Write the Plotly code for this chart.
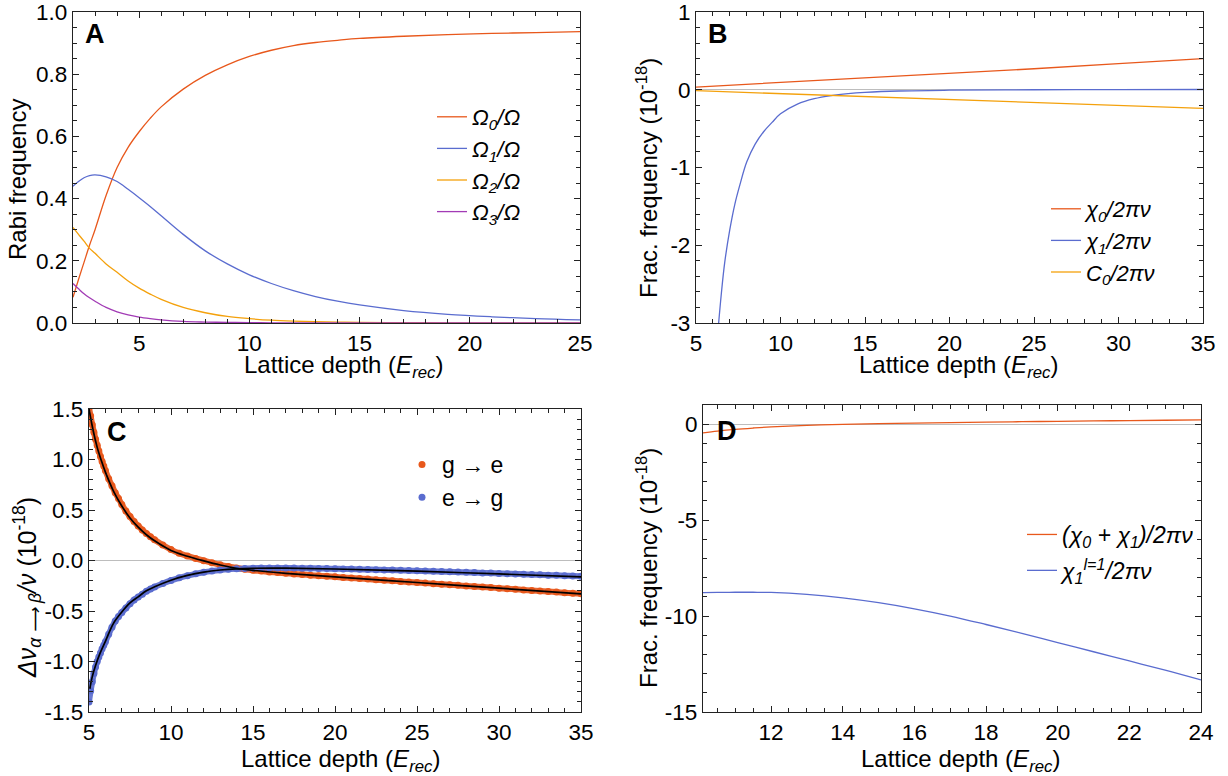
import plotly.graph_objects as go

W, H = 1228, 776
FONT = "Liberation Sans, Arial, Helvetica, sans-serif"

ORANGE = "#E8581C"
BLUE = "#5A6CCF"
YELLOW = "#F4A10C"
PURPLE = "#A23BB5"
GRAY0 = "#BDBDBD"
AXC = "#222222"

# ---------------- Panel A: Rabi frequency ----------------
a_x = [2, 2.25, 2.5, 2.75, 3, 3.5, 4, 4.5, 5, 5.5, 6, 7, 8, 9, 10, 11, 12, 13, 14, 15, 17, 19, 21, 23, 25]
a_omega0 = [0.083, 0.14, 0.195, 0.25, 0.30, 0.41, 0.50, 0.565, 0.615, 0.658, 0.695, 0.752, 0.796, 0.83, 0.857,
            0.877, 0.892, 0.902, 0.909, 0.915, 0.922, 0.927, 0.931, 0.934, 0.937]
a_omega1 = [0.44, 0.455, 0.467, 0.474, 0.476, 0.47, 0.455, 0.43, 0.403, 0.375, 0.345, 0.285, 0.232, 0.19, 0.155,
            0.127, 0.104, 0.085, 0.07, 0.058, 0.04, 0.028, 0.02, 0.014, 0.01]
a_omega2 = [0.307, 0.285, 0.263, 0.24, 0.224, 0.19, 0.163, 0.135, 0.112, 0.093, 0.076, 0.05, 0.033, 0.021, 0.014,
            0.009, 0.006, 0.004, 0.003, 0.002, 0.001, 0.0007, 0.0005, 0.0004, 0.0003]
a_omega3 = [0.127, 0.11, 0.094, 0.081, 0.07, 0.05, 0.036, 0.026, 0.019, 0.014, 0.01, 0.005, 0.003, 0.002, 0.001,
            0.0007, 0.0005, 0.0003, 0.0002, 0.0001, 0.0001, 0.0, 0.0, 0.0, 0.0]
a_names = ["<i>Ω<sub>0</sub>/Ω</i>", "<i>Ω<sub>1</sub>/Ω</i>", "<i>Ω<sub>2</sub>/Ω</i>", "<i>Ω<sub>3</sub>/Ω</i>"]
a_xticks = [5, 10, 15, 20, 25]
a_yticks = [0.0, 0.2, 0.4, 0.6, 0.8, 1.0]
a_yticktext = ["0.0", "0.2", "0.4", "0.6", "0.8", "1.0"]

# ---------------- Panel B: fractional frequency ----------------
b_lin_x = [5, 10, 15, 20, 25, 30, 35]
b_chi0 = [0.035, 0.093, 0.152, 0.21, 0.27, 0.335, 0.40]
b_c0 = [-0.012, -0.05, -0.088, -0.126, -0.164, -0.202, -0.24]
b_chi1_x = [6.3, 6.5, 6.7, 7.0, 7.3, 7.6, 8.0, 8.5, 9, 9.5, 10, 11, 12, 13, 14, 15, 17, 20, 25, 30, 35]
b_chi1 = [-3.1, -2.62, -2.22, -1.8, -1.47, -1.22, -0.93, -0.7, -0.54, -0.42, -0.31, -0.185, -0.115, -0.075,
          -0.05, -0.034, -0.016, -0.006, 0.0, 0.002, 0.003]
b_names = ["<i>χ<sub>0</sub>/2πν</i>", "<i>χ<sub>1</sub>/2πν</i>", "<i>C<sub>0</sub>/2πν</i>"]
b_xticks = [5, 10, 15, 20, 25, 30, 35]
b_yticks = [-3, -2, -1, 0, 1]
b_yticktext = ["-3", "-2", "-1", "0", "1"]

# ---------------- Panel C: transition shifts ----------------
c_dot_x = [5.0, 5.1, 5.2, 5.3, 5.4, 5.5, 5.6, 5.7, 5.8, 5.9, 6.0, 6.2, 6.4, 6.6, 6.8, 7.0, 7.25, 7.5, 7.75,
           8.0, 8.25, 8.5, 8.75, 9.0, 9.5, 10.0, 10.5, 11.0, 11.5, 12.0, 12.5, 13.0, 13.5, 14.0, 14.5, 15.0,
           15.5, 16.0, 16.5, 17.0, 17.5, 18.0, 18.5, 19.0, 19.5, 20.0, 20.5, 21.0, 21.5, 22.0, 22.5, 23.0,
           23.5, 24.0, 24.5, 25.0, 25.5, 26.0, 26.5, 27.0, 27.5, 28.0, 28.5, 29.0, 29.5, 30.0, 30.5, 31.0,
           31.5, 32.0, 32.5, 33.0, 33.5, 34.0, 34.5, 35.0]
c_ge_dots = [1.51, 1.43, 1.345, 1.27, 1.2, 1.14, 1.085, 1.03, 0.98, 0.935, 0.89, 0.81, 0.74, 0.67, 0.615,
             0.555, 0.49, 0.435, 0.385, 0.342, 0.302, 0.267, 0.235, 0.205, 0.153, 0.108, 0.072, 0.045, 0.02,
             -0.002, -0.023, -0.043, -0.06, -0.075, -0.087, -0.097, -0.105, -0.113, -0.12, -0.127, -0.133,
             -0.139, -0.145, -0.151, -0.156, -0.162, -0.168, -0.173, -0.179, -0.184, -0.19, -0.196, -0.201,
             -0.207, -0.212, -0.218, -0.224, -0.229, -0.235, -0.24, -0.246, -0.252, -0.257, -0.263, -0.268,
             -0.274, -0.28, -0.285, -0.291, -0.296, -0.302, -0.308, -0.313, -0.319, -0.324, -0.33]
c_eg_dots = [-1.4, -1.29, -1.2, -1.12, -1.055, -1.0, -0.955, -0.915, -0.875, -0.84, -0.805, -0.73, -0.66,
             -0.6, -0.555, -0.515, -0.47, -0.427, -0.39, -0.362, -0.333, -0.305, -0.282, -0.262, -0.228,
             -0.197, -0.172, -0.15, -0.132, -0.117, -0.105, -0.095, -0.087, -0.082, -0.078, -0.076, -0.075,
             -0.074, -0.074, -0.074, -0.075, -0.076, -0.077, -0.078, -0.08, -0.081, -0.083, -0.085, -0.087,
             -0.089, -0.091, -0.093, -0.095, -0.097, -0.1, -0.102, -0.105, -0.107, -0.11, -0.112, -0.115,
             -0.117, -0.12, -0.123, -0.125, -0.128, -0.131, -0.133, -0.136, -0.139, -0.142, -0.145, -0.147,
             -0.15, -0.153, -0.156]
c_ge_line_x = [5, 5.25, 5.5, 5.75, 6, 6.5, 7, 7.5, 8, 8.5, 9, 10, 11, 12, 13, 14, 15, 17, 20, 25, 30, 35]
c_ge_line = [1.5, 1.29, 1.12, 0.99, 0.875, 0.685, 0.54, 0.42, 0.33, 0.255, 0.195, 0.1, 0.042, -0.004, -0.045,
             -0.078, -0.098, -0.127, -0.162, -0.218, -0.274, -0.33]
c_eg_line_x = [5.05, 5.2, 5.4, 5.67, 6, 6.5, 7, 7.5, 8, 8.5, 9, 10, 11, 12, 13, 14, 15, 17, 20, 25, 30, 35]
c_eg_line = [-1.27, -1.15, -1.04, -0.92, -0.8, -0.62, -0.51, -0.42, -0.36, -0.3, -0.26, -0.195, -0.148,
             -0.115, -0.094, -0.082, -0.077, -0.076, -0.084, -0.106, -0.133, -0.162]
c_names = ["g → e", "e → g"]
c_xticks = [5, 10, 15, 20, 25, 30, 35]
c_yticks = [-1.5, -1.0, -0.5, 0.0, 0.5, 1.0, 1.5]
c_yticktext = ["-1.5", "-1.0", "-0.5", "0.0", "0.5", "1.0", "1.5"]

# ---------------- Panel D ----------------
d_x = [10.1, 10.5, 11, 11.5, 12, 13, 14, 15, 16, 17, 18, 19, 20, 21, 22, 23, 24]
d_sum = [-0.45, -0.36, -0.27, -0.2, -0.14, -0.06, -0.01, 0.03, 0.06, 0.085, 0.11, 0.13, 0.15, 0.17, 0.19,
         0.205, 0.22]
d_l1 = [-8.78, -8.77, -8.76, -8.76, -8.77, -8.87, -9.05, -9.3, -9.62, -10.0, -10.44, -10.9, -11.38, -11.86,
        -12.34, -12.82, -13.33]
d_names = ["<i>(χ<sub>0</sub> + χ<sub>1</sub>)/2πν</i>", "<i>χ<sub>1</sub><sup>l=1</sup>/2πν</i>"]
d_xticks = [12, 14, 16, 18, 20, 22, 24]
d_yticks = [-15, -10, -5, 0]
d_yticktext = ["-15", "-10", "-5", "0"]

XTITLE = "Lattice depth (<i>E<sub>rec</sub></i>)"


def pxx(p):
    return p / W


def pxy(p):
    return 1 - p / H


fig = go.Figure()

# Panel A traces
for ys, col, nm in zip([a_omega0, a_omega1, a_omega2, a_omega3], [ORANGE, BLUE, YELLOW, PURPLE], a_names):
    fig.add_trace(go.Scatter(x=a_x, y=ys, mode="lines", line=dict(color=col, width=1.3, shape="spline"),
                             name=nm, legend="legend", legendgroup=nm, xaxis="x", yaxis="y"))

# Panel B traces
fig.add_trace(go.Scatter(x=b_lin_x, y=b_chi0, mode="lines", line=dict(color=ORANGE, width=1.3),
                         name=b_names[0], legend="legend2", legendgroup="b0", xaxis="x2", yaxis="y2"))
fig.add_trace(go.Scatter(x=b_chi1_x, y=b_chi1, mode="lines", line=dict(color=BLUE, width=1.3, shape="spline"),
                         name=b_names[1], legend="legend2", legendgroup="b1", xaxis="x2", yaxis="y2"))
fig.add_trace(go.Scatter(x=b_lin_x, y=b_c0, mode="lines", line=dict(color=YELLOW, width=1.3),
                         name=b_names[2], legend="legend2", legendgroup="b2", xaxis="x2", yaxis="y2"))

# Panel C traces: dense dots (band underneath to merge them), then black fits on top
for ys, col in zip([c_ge_dots, c_eg_dots], [ORANGE, BLUE]):
    fig.add_trace(go.Scatter(x=c_dot_x, y=ys, mode="lines", line=dict(color=col, width=6, shape="spline"),
                             opacity=0.9, showlegend=False, hoverinfo="skip", xaxis="x3", yaxis="y3"))
fig.add_trace(go.Scatter(x=c_dot_x, y=c_ge_dots, mode="markers", marker=dict(color=ORANGE, size=7, line=dict(width=0)),
                         name=c_names[0], legend="legend3", legendgroup="c0", xaxis="x3", yaxis="y3"))
fig.add_trace(go.Scatter(x=c_dot_x, y=c_eg_dots, mode="markers", marker=dict(color=BLUE, size=7, line=dict(width=0)),
                         name=c_names[1], legend="legend3", legendgroup="c1", xaxis="x3", yaxis="y3"))
fig.add_trace(go.Scatter(x=c_ge_line_x, y=c_ge_line, mode="lines", line=dict(color="black", width=1.7, shape="spline"),
                         showlegend=False, xaxis="x3", yaxis="y3"))
fig.add_trace(go.Scatter(x=c_eg_line_x, y=c_eg_line, mode="lines", line=dict(color="black", width=1.7, shape="spline"),
                         showlegend=False, xaxis="x3", yaxis="y3"))

# Panel D traces
fig.add_trace(go.Scatter(x=d_x, y=d_sum, mode="lines", line=dict(color=ORANGE, width=1.3, shape="spline"),
                         name=d_names[0], legend="legend4", legendgroup="d0", xaxis="x4", yaxis="y4"))
fig.add_trace(go.Scatter(x=d_x, y=d_l1, mode="lines", line=dict(color=BLUE, width=1.3, shape="spline"),
                         name=d_names[1], legend="legend4", legendgroup="d1", xaxis="x4", yaxis="y4"))


def axis(domain, rng, tickvals, ticktext, minor_dtick, anchor, zeroline=False):
    return dict(
        domain=domain, range=rng, anchor=anchor, automargin=False,
        tickmode="array", tickvals=tickvals, ticktext=ticktext, ticklabeloverflow="allow",
        showline=True, linecolor=AXC, linewidth=1.2, mirror="allticks",
        ticks="inside", ticklen=6, tickwidth=1, tickcolor=AXC,
        showgrid=False, zeroline=zeroline, zerolinecolor=GRAY0, zerolinewidth=1,
        tickfont=dict(family=FONT, size=22.5, color="black"),
        minor=dict(ticks="inside", ticklen=3.5, tickwidth=1, tickcolor=AXC,
                   tickmode="linear", tick0=0, dtick=minor_dtick, showgrid=False),
        fixedrange=True,
    )


A_X = [pxx(73), pxx(580)]
B_X = [pxx(696), pxx(1203)]
AB_Y = [pxy(323), pxy(12)]
C_X = [pxx(89), pxx(581)]
C_Y = [pxy(712), pxy(409)]
D_X = [pxx(703), pxx(1201)]
D_Y = [pxy(712), pxy(405)]

fig.update_layout(
    template="none",
    width=W, height=H,
    margin=dict(l=0, r=0, t=0, b=0, pad=0),
    paper_bgcolor="white", plot_bgcolor="white",
    font=dict(family=FONT, size=23, color="black"),
    xaxis=axis(A_X, [2, 25], a_xticks, [str(v) for v in a_xticks], 1, "y"),
    yaxis=axis(AB_Y, [0, 1.0], a_yticks, a_yticktext, 0.05, "x"),
    xaxis2=axis(B_X, [5, 35], b_xticks, [str(v) for v in b_xticks], 1, "y2"),
    yaxis2=axis(AB_Y, [-3, 1], b_yticks, b_yticktext, 0.2, "x2", zeroline=True),
    xaxis3=axis(C_X, [5, 35], c_xticks, [str(v) for v in c_xticks], 1, "y3"),
    yaxis3=axis(C_Y, [-1.5, 1.5], c_yticks, c_yticktext, 0.1, "x3", zeroline=True),
    xaxis4=axis(D_X, [10.1, 24], d_xticks, [str(v) for v in d_xticks], 0.5, "y4"),
    yaxis4=axis(D_Y, [-15, 1], d_yticks, d_yticktext, 1, "x4", zeroline=True),
)


def leg(x, y, gap, size):
    return dict(x=x, y=y, tracegroupgap=gap, bgcolor="rgba(0,0,0,0)", borderwidth=0,
                xanchor="left", yanchor="top", traceorder="grouped",
                font=dict(family=FONT, size=size, color="black"))


fig.update_layout(
    legend=leg(pxx(432), pxy(96), 0, 22),
    legend2=leg(pxx(1046), pxy(188), 0, 22),
    legend3=leg(pxx(402), pxy(443), 0, 23),
    legend4=leg(pxx(1022), pxy(513), 3, 23),
)

annotations = []


def ann(text, x, y, size=24, angle=0, xanchor="center", yanchor="middle"):
    annotations.append(dict(text=text, x=x, y=y, xref="paper", yref="paper", showarrow=False,
                            textangle=angle, xanchor=xanchor, yanchor=yanchor,
                            font=dict(family=FONT, size=size, color="black")))


# axis titles
ann(XTITLE, pxx(343), pxy(366))
ann(XTITLE, pxx(958), pxy(366))
ann(XTITLE, pxx(340), pxy(760))
ann(XTITLE, pxx(960), pxy(760))
ann("Rabi frequency", pxx(17), pxy(180), angle=-90)
ann("Frac. frequency (10<sup>-18</sup>)", pxx(647), pxy(178), angle=-90)
ann("<i>Δν</i><sub><i>α ⟶ β</i></sub><i>/ν</i> (10<sup>-18</sup>)", pxx(27), pxy(588), size=25, angle=-90)
ann("Frac. frequency (10<sup>-18</sup>)", pxx(647), pxy(568), angle=-90)
# panel letters
ann("<b>A</b>", pxx(83), pxy(34), size=27, xanchor="left")
ann("<b>B</b>", pxx(706), pxy(34), size=27, xanchor="left")
ann("<b>C</b>", pxx(105), pxy(432), size=27, xanchor="left")
ann("<b>D</b>", pxx(715), pxy(431), size=27, xanchor="left")

fig.update_layout(annotations=annotations)

fig.write_html("out.html")
